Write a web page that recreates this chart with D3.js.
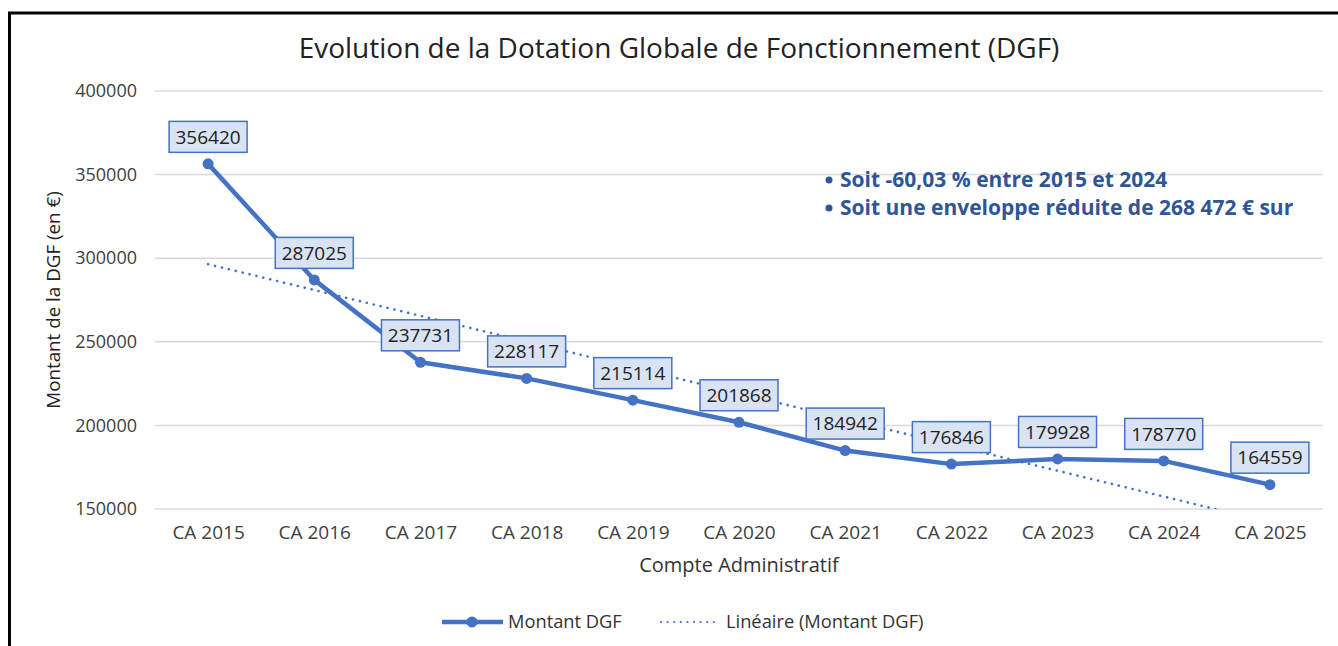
<!DOCTYPE html>
<html>
<head>
<meta charset="utf-8">
<script src="https://cdn.jsdelivr.net/npm/d3@7"></script>
<style>
  body { margin: 0; background: #fff; }
  svg text { font-family: "Open Sans", "Noto Sans", sans-serif; }
</style>
</head>
<body>
<div id="chart"></div>
<script>
// donnees
const categories = ["CA 2015", "CA 2016", "CA 2017", "CA 2018", "CA 2019", "CA 2020",
                    "CA 2021", "CA 2022", "CA 2023", "CA 2024", "CA 2025"];
const montants = [356420, 287025, 237731, 228117, 215114, 201868,
                  184942, 176846, 179928, 178770, 164559];
const yTicks = [150000, 200000, 250000, 300000, 350000, 400000];
const notes = ["Soit -60,03 % entre 2015 et 2024",
               "Soit une enveloppe réduite de 268 472 € sur"];

const W = 1338, H = 646;
const blue = "#4472C4";

const svg = d3.select("#chart").append("svg")
    .attr("width", W).attr("height", H);

// cadre noir
svg.append("path")
    .attr("d", "M9.5,646 L9.5,13 L1338,13")
    .attr("fill", "none").attr("stroke", "#000").attr("stroke-width", 3);

const x = d3.scalePoint().domain(categories).range([155, 1323]).padding(0.5);
const y = d3.scaleLinear().domain([150000, 400000]).range([509, 91]);

// grille
svg.append("g").selectAll("line").data(yTicks).join("line")
    .attr("x1", 155).attr("x2", 1323)
    .attr("y1", d => y(d)).attr("y2", d => y(d))
    .attr("stroke", "#d9d9d9").attr("stroke-width", 1.5);

// axe Y
const yAxis = svg.append("g").attr("transform", "translate(137,0)")
    .call(d3.axisLeft(y).tickValues(yTicks).tickSize(0).tickPadding(0).tickFormat(d3.format("d")));
yAxis.select(".domain").remove();
yAxis.selectAll("text").attr("font-size", 18).attr("fill", "#404040")
    .attr("font-family", "Open Sans");

// axe X
const xAxis = svg.append("g").attr("transform", "translate(0,525)")
    .call(d3.axisBottom(x).tickSize(0).tickPadding(0));
xAxis.select(".domain").remove();
xAxis.selectAll("text").attr("font-size", 19).attr("fill", "#404040")
    .attr("font-family", "Open Sans");

// titres
svg.append("text").attr("x", 679).attr("y", 58).attr("text-anchor", "middle")
    .attr("font-size", 28).attr("fill", "#222")
    .text("Evolution de la Dotation Globale de Fonctionnement (DGF)");
svg.append("text").attr("x", 739).attr("y", 572).attr("text-anchor", "middle")
    .attr("font-size", 20).attr("fill", "#333").text("Compte Administratif");
svg.append("text").attr("transform", "translate(60,300) rotate(-90)")
    .attr("text-anchor", "middle")
    .attr("font-size", 18.8).attr("fill", "#222").text("Montant de la DGF (en €)");

// courbe de tendance lineaire (moindres carres)
const idx = montants.map((d, i) => i);
const mx = d3.mean(idx), my = d3.mean(montants);
const slope = d3.sum(idx, i => (i - mx) * (montants[i] - my)) / d3.sum(idx, i => (i - mx) ** 2);
const icpt = my - slope * mx;
const trendVal = i => icpt + slope * i;
const xi = d3.scaleLinear().domain([0, categories.length - 1])
    .range([x(categories[0]), x(categories[categories.length - 1])]);

svg.append("clipPath").attr("id", "plotclip").append("rect")
    .attr("x", 155).attr("y", 91).attr("width", 1168).attr("height", 418);

svg.append("line").attr("clip-path", "url(#plotclip)")
    .attr("x1", xi(0)).attr("y1", y(trendVal(0)))
    .attr("x2", xi(categories.length - 1)).attr("y2", y(trendVal(categories.length - 1)))
    .attr("stroke", blue).attr("stroke-width", 2.6)
    .attr("stroke-dasharray", "0.1 7").attr("stroke-linecap", "round");

// serie
const line = d3.line().x((d, i) => x(categories[i])).y(d => y(d));
svg.append("path").datum(montants).attr("d", line)
    .attr("fill", "none").attr("stroke", blue).attr("stroke-width", 4.5)
    .attr("stroke-linejoin", "round");
svg.append("g").selectAll("circle").data(montants).join("circle")
    .attr("cx", (d, i) => x(categories[i])).attr("cy", d => y(d))
    .attr("r", 5.5).attr("fill", blue);

// etiquettes de donnees
const lab = svg.append("g").selectAll("g").data(montants).join("g")
    .attr("transform", (d, i) => `translate(${x(categories[i])},${y(d) - 27})`);
lab.append("rect").attr("x", -39).attr("y", -15.5).attr("width", 78).attr("height", 31)
    .attr("fill", "#DAE3F3").attr("stroke", blue).attr("stroke-width", 1.5);
lab.append("text").attr("text-anchor", "middle").attr("dy", "0.35em")
    .attr("font-size", 19).attr("fill", "#222").text(d => d);

// notes
const nt = svg.append("g").selectAll("g").data(notes).join("g")
    .attr("transform", (d, i) => `translate(840,${180 + i * 28})`);
nt.append("circle").attr("cx", -11).attr("cy", 0).attr("r", 3.5).attr("fill", "#2F5597");
nt.append("text").attr("dy", "0.35em").attr("font-size", 21).attr("font-weight", "bold")
    .attr("fill", "#2F5597").text(d => d);

// legende
const lg = svg.append("g").attr("transform", "translate(0,622)");
lg.append("line").attr("x1", 442).attr("x2", 503).attr("stroke", blue).attr("stroke-width", 4.5);
lg.append("circle").attr("cx", 472).attr("r", 5.5).attr("fill", blue);
lg.append("text").attr("x", 508).attr("dy", "0.35em").attr("font-size", 18.3)
    .attr("fill", "#333").text("Montant DGF");
lg.append("line").attr("x1", 661).attr("x2", 716).attr("stroke", blue).attr("stroke-width", 2.2)
    .attr("stroke-dasharray", "0.1 6.5").attr("stroke-linecap", "round");
lg.append("text").attr("x", 726).attr("dy", "0.35em").attr("font-size", 18.3)
    .attr("fill", "#333").text("Linéaire (Montant DGF)");
</script>
</body>
</html>
